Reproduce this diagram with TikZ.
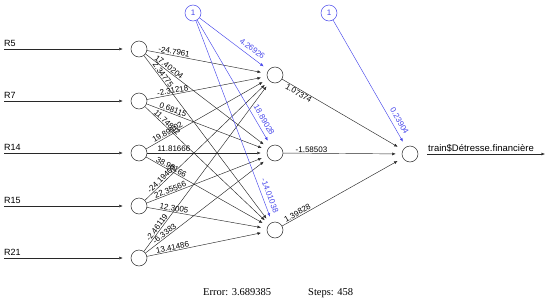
\documentclass[tikz,border=0pt]{standalone}
\usepackage{fontspec}
\setmainfont{Liberation Sans}
\newfontfamily\captionserif{Liberation Serif}
\usetikzlibrary{arrows.meta,calc}
\definecolor{biasblue}{RGB}{70,70,235}
\definecolor{edgegray}{RGB}{40,40,40}
\begin{document}
\begin{tikzpicture}[x=1pt,y=-1pt,
  neuron/.style={circle,draw=edgegray,line width=0.5pt,minimum size=16pt,inner sep=0pt},
  biasnode/.style={neuron,draw=biasblue,text=biasblue,font=\fontsize{8}{9}\selectfont},
  edge/.style={draw=edgegray,line width=0.45pt,-{Latex[length=3.5pt,width=3pt]},shorten >=6pt},
  biasedge/.style={edge,draw=biasblue},
  wlab/.style={sloped,above,font=\fontsize{8}{9}\selectfont,inner sep=0.8pt},
  wlabb/.style={sloped,below,font=\fontsize{8}{9}\selectfont,inner sep=0.8pt},
  blab/.style={sloped,above=3.5pt,font=\fontsize{8}{9}\selectfont,inner sep=0.8pt,text=biasblue},
  inlab/.style={anchor=base west,font=\fontsize{9}{10}\selectfont,inner sep=0pt},
  caplab/.style={anchor=base west,font=\captionserif\fontsize{10.5}{12}\selectfont,inner sep=0pt}
]
\useasboundingbox (0,0) rectangle (550,303);

% nodes
\node[neuron] (i1) at (139,49) {};
\node[neuron] (i2) at (139,101) {};
\node[neuron] (i3) at (139,153) {};
\node[neuron] (i4) at (139,206) {};
\node[neuron] (i5) at (139,258) {};
\node[neuron] (h1) at (275,75) {};
\node[neuron] (h2) at (275,153) {};
\node[neuron] (h3) at (275,230) {};
\node[neuron] (o) at (410,154) {};
\node[biasnode] (b1) at (193,13) {1};
\node[biasnode] (b2) at (329,13) {1};

% input arrows
\coordinate (s1) at (4,49);
\coordinate (s2) at (4,101);
\coordinate (s3) at (4,153);
\coordinate (s4) at (4,206);
\coordinate (s5) at (4,258);
\foreach \k in {1,...,5} { \draw[edge,shorten >=8pt] (s\k) -- (i\k); }
\node[inlab] (l1) at (4,46.5) {R5};
\node[inlab] (l2) at (4,98.5) {R7};
\node[inlab] (l3) at (4,150.5) {R14};
\node[inlab] (l4) at (4,203.5) {R15};
\node[inlab] (l5) at (4,255.5) {R21};

% input -> hidden edges
\foreach \i in {1,...,5} { \foreach \j in {1,2,3} { \draw[edge] (i\i) -- (h\j); } }

% weight labels input -> hidden
\path (i1.center) -- node[wlab,pos=0.253] (w11) {-24.7961} (h1.center);
\path (i1.center) -- node[wlab,pos=0.204] (w12) {17.40204} (h2.center);
\path (i1.center) -- node[wlab,pos=0.155] (w13) {2.34775} (h3.center);
\path (i2.center) -- node[wlab,pos=0.253] (w21) {-2.31218} (h1.center);
\path (i2.center) -- node[wlab,pos=0.240] (w22) {0.68115} (h2.center);
\path (i2.center) -- node[wlab,pos=0.187] (w23) {11.74802} (h3.center);
\path (i3.center) -- node[wlab,pos=0.223] (w31) {19.89502} (h1.center);
\path (i3.center) -- node[wlab,pos=0.257] (w32) {11.81666} (h2.center);
\path (i3.center) -- node[wlab,pos=0.224] (w33) {38.98166} (h3.center);
\path (i4.center) -- node[wlab,pos=0.185] (w41) {-24.19409} (h1.center);
\path (i4.center) -- node[wlab,pos=0.240] (w42) {22.35566} (h2.center);
\path (i4.center) -- node[wlab,pos=0.253] (w43) {12.3005} (h3.center);
\path (i5.center) -- node[wlab,pos=0.154] (w51) {-2.46119} (h1.center);
\path (i5.center) -- node[wlab,pos=0.204] (w52) {-6.3383} (h2.center);
\path (i5.center) -- node[wlab,pos=0.252] (w53) {13.41486} (h3.center);

% bias edges
\foreach \j in {1,2,3} { \draw[biasedge] (b1) -- (h\j); }
\draw[biasedge] (b2) -- (o);
\path (b1.center) -- node[blab,pos=0.669] (bw1) {4.26926} (h1.center);
\path (b1.center) -- node[blab,pos=0.790] (bw2) {18.89028} (h2.center);
\path (b1.center) -- node[blab,pos=0.853] (bw3) {-14.01038} (h3.center);
\path (b2.center) -- node[blab,pos=0.791] (bwo) {0.23904} (o.center);

% hidden -> output
\foreach \j in {1,2,3} { \draw[edge] (h\j) -- (o); }
\path (h1.center) -- node[wlabb,pos=0.19] (v1) {1.07374} (o.center);
\path (h2.center) -- node[wlab,pos=0.27] (v2) {-1.58503} (o.center);
\path (h3.center) -- node[wlab,pos=0.18] (v3) {1.39828} (o.center);

% output arrow
\coordinate (oe) at (545,154);
\draw[edge,shorten >=0pt,shorten <=9pt] (o) -- (oe);
\node[anchor=base west,font=\fontsize{9.5}{11}\selectfont,inner sep=0pt] (ol) at (428,151) {train\$Détresse.financière};

% caption
\node[caplab] (err) at (203,295.5) {Error: 3.689385};
\node[caplab] (stp) at (308,295.5) {Steps: 458};
\end{tikzpicture}
\end{document}
